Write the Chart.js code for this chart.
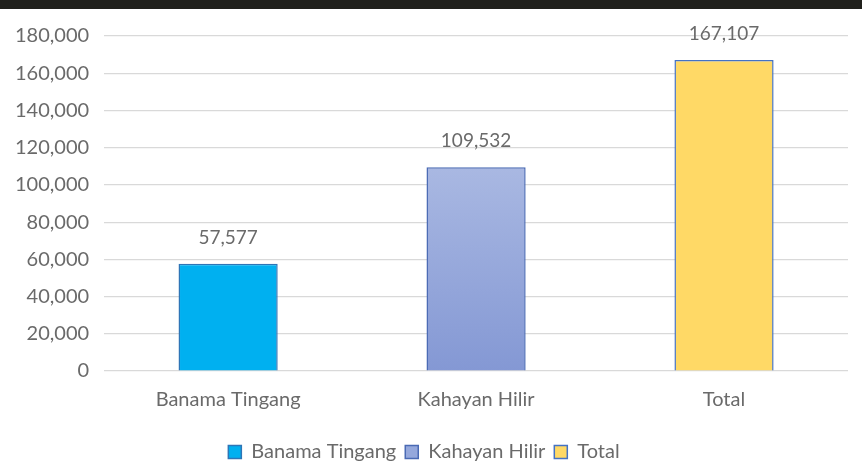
<!DOCTYPE html>
<html>
<head>
<meta charset="utf-8">
<script src="https://cdn.jsdelivr.net/npm/chart.js@4"></script>
<style>
  html, body { margin: 0; padding: 0; background: #fff; }
  #topbar { position: absolute; left: 0; top: 0; width: 862px; height: 9px; background: #20201c; }
  #wrap { position: absolute; left: 0; top: 9px; width: 862px; height: 466px; }
</style>
</head>
<body>
<div id="topbar"></div>
<div id="wrap"><canvas id="chart"></canvas></div>
<script>
// chart values
var categories = ['Banama Tingang', 'Kahayan Hilir', 'Total'];
var values = [57577, 109532, 167107];
var yTicks = [0, 20000, 40000, 60000, 80000, 100000, 120000, 140000, 160000, 180000];

var fills = ['#00b0f0', '#95a8dc', '#ffd966'];
var borders = ['#2e75b6', '#4a6ab4', '#4472c4'];
var textColor = '#6a6a6a';
var fontFamily = 'Lato, "Open Sans", sans-serif';

function fmt(v) {
  return v.toLocaleString('en-US');
}

// value labels above each bar
var valueLabels = {
  id: 'valueLabels',
  afterDatasetsDraw: function (chart) {
    var ctx = chart.ctx;
    ctx.save();
    ctx.font = '19px ' + fontFamily;
    ctx.fillStyle = textColor;
    ctx.textAlign = 'center';
    ctx.textBaseline = 'middle';
    chart.data.datasets.forEach(function (ds, i) {
      var meta = chart.getDatasetMeta(i);
      meta.data.forEach(function (bar, j) {
        if (ds.data[j] == null) return;
        ctx.fillText(fmt(ds.data[j]), bar.x, bar.y - 26);
      });
    });
    ctx.restore();
  }
};

// Kahayan Hilir bar has a light vertical gradient
function kahayanFill(context) {
  var chart = context.chart;
  var v = context.raw;
  if (!chart.chartArea || v == null || context.type !== 'data') return fills[1];
  var y = chart.scales.y;
  var g = chart.ctx.createLinearGradient(0, y.getPixelForValue(v), 0, y.getPixelForValue(0));
  g.addColorStop(0, '#a9b8e2');
  g.addColorStop(1, '#8498d4');
  return g;
}

var datasets = categories.map(function (name, i) {
  var data = categories.map(function (c, j) { return j === i ? values[i] : null; });
  return {
    label: name,
    data: data,
    backgroundColor: i === 1 ? kahayanFill : fills[i],
    borderColor: borders[i],
    borderWidth: 1.5,
    barPercentage: 0.4,
    categoryPercentage: 1
  };
});

new Chart(document.getElementById('chart').getContext('2d'), {
  type: 'bar',
  data: { labels: categories, datasets: datasets },
  plugins: [valueLabels],
  options: {
    responsive: true,
    maintainAspectRatio: false,
    animation: false,
    grouped: false,
    layout: { padding: { left: 0, right: 14, top: 25, bottom: 3 } },
    plugins: {
      tooltip: { enabled: false },
      legend: {
        position: 'bottom',
        labels: {
          color: textColor,
          font: { family: fontFamily, size: 20 },
          boxWidth: 13,
          boxHeight: 13,
          padding: 9
        }
      }
    },
    scales: {
      x: {
        grid: { display: false },
        border: { display: false },
        ticks: { color: textColor, font: { family: fontFamily, size: 20 }, padding: 9 },
        afterFit: function (scale) { scale.height += 12; }
      },
      y: {
        min: 0,
        max: 180000,
        afterBuildTicks: function (axis) {
          axis.ticks = yTicks.map(function (v) { return { value: v }; });
        },
        grid: { color: '#d9d9d9', lineWidth: 1.2, drawTicks: false },
        border: { display: false },
        ticks: {
          color: textColor,
          font: { family: fontFamily, size: 20 },
          padding: 15,
          callback: function (v) { return fmt(v); }
        }
      }
    }
  }
});
</script>
</body>
</html>
